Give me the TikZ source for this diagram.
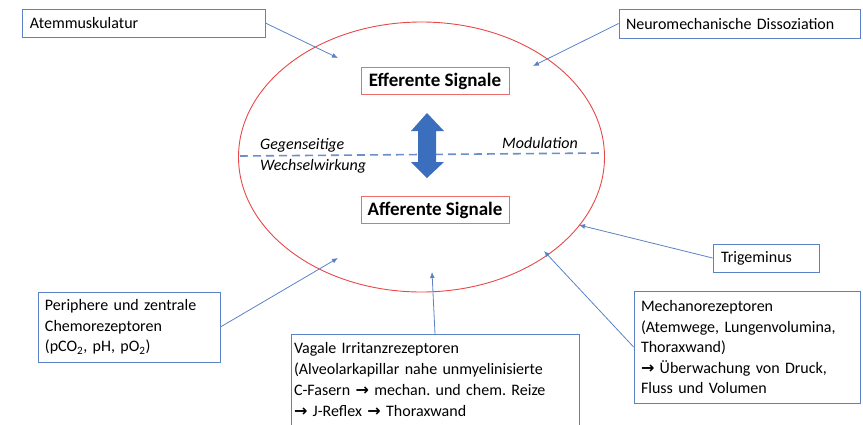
\documentclass[tikz,border=0pt]{standalone}
\usepackage{fontspec}
\setmainfont{Carlito}
\newfontfamily\arrowfont[Scale=1.0]{DejaVu Sans}
\newcommand{\rarr}{{\arrowfont\bfseries →}}
\frenchspacing
\usetikzlibrary{shapes.geometric,arrows.meta}
\definecolor{boxblue}{RGB}{91,130,196}
\definecolor{linered}{RGB}{232,72,72}
\definecolor{fillblue}{RGB}{60,110,190}
\begin{document}
\begin{tikzpicture}[x=1pt,y=-1pt,
  every node/.style={font=\fontsize{16}{20.5}\selectfont},
  bluebox/.style={draw=boxblue,line width=0.8pt,align=left,inner ysep=3pt},
  redbox/.style={draw=linered!80,line width=0.8pt,font=\fontsize{19}{22}\selectfont\bfseries,
    minimum width=148pt,minimum height=27pt,inner sep=0pt},
  feed/.style={draw=boxblue,line width=0.8pt,-{Latex[length=6pt,width=5pt]}},
  note/.style={font=\fontsize{16}{20.5}\selectfont\itshape,align=left,inner sep=0pt}]
\useasboundingbox (0,0) rectangle (863,424);
\clip (0,0) rectangle (863,424);
\node[ellipse,draw=linered,line width=0.9pt,minimum width=366pt,minimum height=270pt] (ring) at (421.5,157) {};
\draw[boxblue!90,line width=1.6pt,dash pattern=on 8pt off 5pt] (240,156) -- (603,153);
\node[redbox] (eff) at (435,81) {Efferente Signale};
\node[redbox] (aff) at (435,210) {Afferente Signale};
\fill[fillblue] (427,113) -- (444,131) -- (436,131) -- (436,162) -- (444,162) -- (427,178)
  -- (411,162) -- (418,162) -- (418,131) -- (411,131) -- cycle;
\node[note,anchor=west] (gegen) at (260,156) {Gegenseitige\\Wechselwirkung};
\node[note,anchor=west] (modul) at (502,143) {Modulation};
\node[bluebox,text width=227pt,inner xsep=8pt,minimum height=28pt] (atem) at (143.5,23) {Atemmuskulatur};
\node[bluebox,text width=227pt,inner xsep=7pt,minimum height=29pt] (neuro) at (739.5,23.5) {Neuromechanische Dissoziation};
\node[bluebox,text width=90pt,inner xsep=8pt,minimum height=28pt] (trig) at (766,258) {Trigeminus};
\node[bluebox,text width=168pt,inner xsep=7pt,minimum height=70pt] (peri) at (129,327)
  {Periphere und zentrale\\Chemorezeptoren\\(pCO\textsubscript{2}, pH, pO\textsubscript{2})};
\node[bluebox,text width=212pt,inner xsep=7pt,minimum height=112pt] (mech) at (747,347)
  {Mechanorezeptoren\\(Atemwege, Lungenvolumina,\\Thoraxwand)\\\rarr{} Überwachung von Druck,\\Fluss und Volumen};
\node[bluebox,text width=282pt,inner xsep=3pt,inner ysep=8pt,anchor=north,
  font=\fontsize{16}{21}\selectfont] (vag) at (435,334)
  {Vagale Irritanzrezeptoren\\(Alveolarkapillar nahe unmyelinisierte\\C-Fasern \rarr{} mechan. und chem. Reize\\\rarr{} J-Reflex \rarr{} Thoraxwand\\\mbox{}};
\coordinate (atemend) at (338,58);
\coordinate (neuroend) at (533,66);
\coordinate (trigend) at (579,225);
\coordinate (mechend) at (544,251);
\coordinate (periend) at (338,258);
\coordinate (vagend) at (432,272);
\draw[feed] (atem.east) -- (atemend);
\draw[feed] (neuro.west) -- (neuroend);
\draw[feed] (trig.west) -- (trigend);
\draw[feed] (mech.west) -- (mechend);
\draw[feed] (peri.east) -- (periend);
\draw[feed] (vag.north) -- (vagend);
\end{tikzpicture}
\end{document}
